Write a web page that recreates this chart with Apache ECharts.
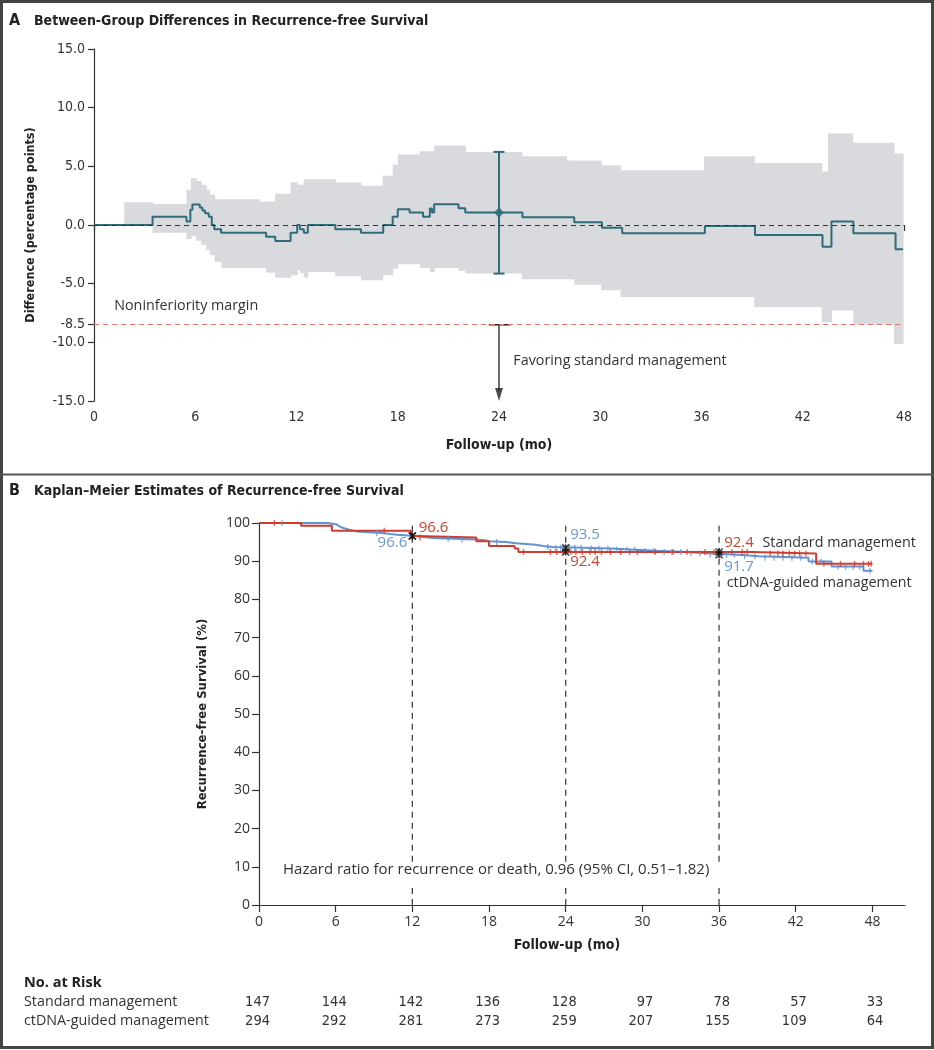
<!DOCTYPE html>
<html><head><meta charset="utf-8">
<script src="https://cdn.jsdelivr.net/npm/echarts@6/dist/echarts.min.js"></script>
<style>html,body{margin:0;padding:0;background:#fff}#c{width:934px;height:1050px}</style>
</head><body><div id="c"></div>
<script>
// ---------- Panel A data ----------
const diffTime = [0, 3.47, 5.48, 5.71, 5.83, 6.27, 6.42, 6.58, 6.8, 6.98, 7.13, 7.53, 10.2, 10.74, 11.65, 12.04, 12.2, 12.43, 12.67, 14.3, 15.82, 17.14, 17.7, 18.0, 18.7, 19.5, 19.9, 20.03, 20.16, 21.6, 22.0, 25.39, 28.46, 30.1, 31.3, 36.2, 39.17, 43.17, 43.7, 45.0, 47.5, 47.94];
const diffVal  = [0, 0.71, 0.29, 1.29, 1.74, 1.49, 1.23, 1.0, 0.71, 0, -0.37, -0.66, -1.0, -1.37, -0.66, 0, -0.37, -0.66, 0, -0.37, -0.66, 0, 0.71, 1.34, 1.06, 0.71, 1.4, 1.06, 1.77, 1.43, 1.06, 0.66, 0.23, -0.23, -0.71, -0.09, -0.86, -1.86, 0.29, -0.71, -2.06, -2.06];
const ciTime  = [1.79, 3.47, 5.48, 5.75, 6.05, 6.35, 6.65, 6.85, 7.15, 7.55, 9.8, 10.2, 10.74, 11.65, 12.04, 12.2, 12.43, 12.67, 14.3, 15.82, 17.1, 17.7, 18.0, 19.3, 19.9, 20.16, 21.6, 22.0, 25.35, 28.0, 28.46, 30.05, 31.2, 36.15, 39.12, 43.12, 43.5, 43.7, 44.95, 45.0, 47.4, 47.94];
const ciUpper = [1.94, 1.8, 3.0, 4.0, 3.75, 3.4, 3.0, 2.6, 2.2, 2.2, 2.0, 2.0, 2.66, 3.63, 3.43, 3.43, 3.9, 3.9, 3.63, 3.34, 4.2, 5.14, 6.0, 6.29, 6.29, 6.77, 6.77, 6.23, 5.86, 5.49, 5.49, 5.09, 4.66, 5.86, 5.29, 4.57, 7.8, 7.8, 7.0, 7.0, 6.09, 6.09];
const ciLower = [0, -0.66, -1.2, -0.94, -1.34, -1.71, -2.14, -2.57, -3.14, -3.66, -3.66, -4.06, -4.49, -4.29, -3.86, -4.1, -4.49, -4.0, -4.37, -4.71, -4.29, -3.71, -3.34, -3.66, -4.0, -3.66, -3.9, -4.14, -4.63, -4.63, -5.09, -5.57, -6.14, -6.14, -7.0, -8.29, -8.29, -7.29, -7.29, -8.49, -10.14, -10.14];
const est24 = {t: 24, est: 1.06, lo: -4.14, hi: 6.23};
const margin = -8.5;
const yTicksA = [15, 10, 5, 0, -5, -8.5, -10, -15];
const xTicksA = [0, 6, 12, 18, 24, 30, 36, 42, 48];

// ---------- Panel B data ----------
const ctdnaTime = [0, 5.4, 6.1, 6.3, 6.6, 7.0, 7.6, 9.6, 10.3, 10.8, 12.2, 13.6, 15.2, 17.0, 17.65, 18.0, 19.35, 20.1, 21.7, 22.2, 23.0, 25.5, 27.5, 29.5, 31.5, 33.5, 35.0, 37.5, 39.1, 43.0, 44.8, 47.3, 48.0];
const ctdnaVal  = [100, 99.6, 99.1, 98.7, 98.3, 97.8, 97.4, 97.1, 96.9, 96.6, 96.1, 95.9, 95.7, 95.5, 95.2, 95.0, 94.7, 94.3, 94.0, 93.7, 93.5, 93.3, 93.0, 92.7, 92.4, 92.1, 91.7, 91.3, 90.9, 89.9, 88.6, 87.5, 87.5];
const stdTime = [0, 3.3, 5.7, 11.9, 12.3, 17.0, 18.0, 20.0, 20.3, 38.5, 43.6, 48.0];
const stdVal  = [100, 99.3, 98.0, 96.6, 96.2, 95.2, 94.0, 93.3, 92.4, 92.0, 89.3, 89.3];
const ctdnaCensor = [1.8, 9.2, 14.8, 15.9, 18.6, 22.6, 23.2, 23.6, 24.3, 24.7, 25.2, 26.0, 26.6, 27.3, 28.0, 28.8, 29.4, 30.2, 30.9, 31.7, 32.3, 33.0, 33.8, 34.5, 35.3, 36.6, 37.2, 38.0, 38.8, 39.6, 40.3, 41.0, 41.7, 42.4, 43.3, 44.0, 45.3, 45.9, 46.5, 47.0, 47.8];
const stdCensor = [1.2, 9.8, 12.6, 20.7, 22.8, 23.3, 23.8, 24.4, 24.8, 25.3, 25.9, 26.3, 26.8, 27.5, 28.3, 29.0, 29.6, 31.0, 32.4, 33.5, 34.9, 35.6, 37.0, 37.8, 38.2, 40.0, 40.6, 41.0, 41.5, 41.9, 42.3, 42.8, 44.2, 45.5, 46.6, 47.3, 47.7, 47.9];
const landmarks = [12, 24, 36];
const landmarkGap = [5.2, 11.3];   // vertical span left free around the hazard-ratio note
const xTicksB = [0, 6, 12, 18, 24, 30, 36, 42, 48];
const riskTimes = [0, 6, 12, 18, 24, 30, 36, 42, 48];
const riskStd   = [147, 144, 142, 136, 128, 97, 78, 57, 33];
const riskCt    = [294, 292, 281, 273, 259, 207, 155, 109, 64];
const hazardText = 'Hazard ratio for recurrence or death, 0.96 (95% CI, 0.51\u20131.82)';

// ---------- styling ----------
const COND = "'DejaVu Sans Condensed',sans-serif";
const HUM = "'Open Sans','Lato',sans-serif";
const TEAL = '#2e6b7b', RED = '#cf3b2d', BLUE = '#6193d4';
const RED_T = '#c9452f', BLUE_T = '#6b97d0';

function zip(a, b) { return a.map((v, i) => [v, b[i]]); }
function kmAt(times, vals, t) { let v = vals[0]; for (let i = 0; i < times.length; i++) { if (times[i] <= t) v = vals[i]; } return v; }

const chart = echarts.init(document.getElementById('c'), null, {renderer: 'canvas'});
const axisCol = '#333';
const tickStyle = {lineStyle: {color: axisCol, width: 1.2}};

const ciRects = ciTime.slice(0, -1).map((t, i) => [t, ciTime[i + 1], ciLower[i], ciUpper[i]]);

const option = {
  animation: false,
  backgroundColor: '#fff',
  grid: [
    {left: 94, top: 49, width: 810, height: 352},
    {left: 259, top: 523, width: 646, height: 382}
  ],
  xAxis: [
    {gridIndex: 0, type: 'value', min: 0, max: 48, interval: 6,
     axisLine: {lineStyle: {color: axisCol, width: 1.2}}, axisTick: Object.assign({length: 6, customValues: xTicksA}, tickStyle),
     axisLabel: {customValues: xTicksA, fontFamily: COND, fontSize: 14, color: '#333', margin: 9}, splitLine: {show: false},
     name: 'Follow-up (mo)', nameLocation: 'middle', nameGap: 37,
     nameTextStyle: {fontFamily: COND, fontWeight: 'bold', fontSize: 14, color: '#222'}},
    {gridIndex: 1, type: 'value', min: 0, max: 50.55,
     axisLine: {lineStyle: {color: axisCol, width: 1.2}}, axisTick: Object.assign({length: 7, customValues: xTicksB}, tickStyle),
     axisLabel: {customValues: xTicksB, fontFamily: HUM, fontSize: 14, color: '#333', margin: 10}, splitLine: {show: false},
     name: 'Follow-up (mo)', nameLocation: 'middle', nameGap: 33,
     nameTextStyle: {fontFamily: COND, fontWeight: 'bold', fontSize: 14, color: '#222', padding: [0, 0, 0, -30]}}
  ],
  yAxis: [
    {gridIndex: 0, type: 'value', min: -15, max: 15,
     axisLine: {show: true, lineStyle: {color: axisCol, width: 1.2}}, axisTick: Object.assign({show: true, length: 6, customValues: yTicksA}, tickStyle),
     axisLabel: {customValues: yTicksA, formatter: v => Number(v).toFixed(1), fontFamily: COND, fontSize: 14, color: '#333', margin: 9},
     splitLine: {show: false},
     name: 'Difference (percentage points)', nameLocation: 'middle', nameGap: 57, nameRotate: 90,
     nameTextStyle: {fontFamily: COND, fontWeight: 'bold', fontSize: 12.5, color: '#222'}},
    {gridIndex: 1, type: 'value', min: 0, max: 100, interval: 10,
     axisLine: {show: true, lineStyle: {color: axisCol, width: 1.2}}, axisTick: Object.assign({show: true, length: 7}, tickStyle),
     axisLabel: {fontFamily: HUM, fontSize: 14, color: '#333', margin: 9},
     splitLine: {show: false},
     name: 'Recurrence-free Survival (%)', nameLocation: 'middle', nameGap: 50, nameRotate: 90,
     nameTextStyle: {fontFamily: COND, fontWeight: 'bold', fontSize: 13, color: '#222'}}
  ],
  series: [
    // CI band
    {type: 'custom', xAxisIndex: 0, yAxisIndex: 0, data: ciRects, encode: {x: [0, 1], y: [2, 3]}, silent: true, z: 1,
     renderItem: function (params, api) {
       const p0 = api.coord([api.value(0), api.value(3)]);
       const p1 = api.coord([api.value(1), api.value(2)]);
       return {type: 'rect', shape: {x: p0[0], y: p0[1], width: p1[0] - p0[0] + 0.6, height: p1[1] - p0[1]},
               style: {fill: '#d9dadd'}};
     }},
    // reference lines
    {type: 'line', xAxisIndex: 0, yAxisIndex: 0, data: [], z: 2, silent: true,
     markLine: {symbol: 'none', silent: true, label: {show: false}, animation: false,
       data: [
         {yAxis: 0, lineStyle: {color: '#333', type: [5, 4], width: 1.1}},
         {yAxis: margin, lineStyle: {color: '#e0766c', type: [5, 4], width: 1.2}}
       ]}},
    // difference line
    {type: 'line', xAxisIndex: 0, yAxisIndex: 0, data: zip(diffTime, diffVal), step: 'end', symbol: 'none',
     lineStyle: {color: TEAL, width: 2}, z: 3},
    // error bar at 24 mo
    {type: 'line', xAxisIndex: 0, yAxisIndex: 0, data: [[est24.t, est24.hi], [est24.t, est24.lo]], symbol: 'rect', symbolSize: [11, 2],
     showSymbol: true, itemStyle: {color: TEAL}, lineStyle: {color: TEAL, width: 2}, z: 4},
    {type: 'scatter', xAxisIndex: 0, yAxisIndex: 0, data: [[est24.t, est24.est]], symbol: 'diamond', symbolSize: [10, 11],
     itemStyle: {color: TEAL}, z: 5},
    // favoring arrow
    {type: 'line', xAxisIndex: 0, yAxisIndex: 0, data: [[23.4, margin], [24.7, margin]], symbol: 'none',
     lineStyle: {color: '#222', width: 1.5}, z: 4},
    {type: 'line', xAxisIndex: 0, yAxisIndex: 0, data: [[24, margin], [24, -14.2]], symbol: 'none',
     lineStyle: {color: '#222', width: 1.3}, z: 4},
    {type: 'scatter', xAxisIndex: 0, yAxisIndex: 0, data: [[24, -14.45]], symbol: 'triangle', symbolRotate: 180, symbolSize: [8, 13],
     itemStyle: {color: '#222'}, z: 4}
  ].concat(
    // Panel B: landmark dashed lines (broken around the hazard-ratio note)
    landmarks.map(t => ({type: 'line', xAxisIndex: 1, yAxisIndex: 1,
      data: [[t, 0], [t, landmarkGap[0]], [t, null], [t, landmarkGap[1]], [t, 100.6]], connectNulls: false,
      symbol: 'none', clip: false, silent: true, z: 2, lineStyle: {color: '#444', type: [6, 5], width: 1.3}}))
  ).concat([
    {type: 'line', xAxisIndex: 1, yAxisIndex: 1, data: zip(ctdnaTime, ctdnaVal), step: 'end', symbol: 'none',
     lineStyle: {color: BLUE, width: 2}, z: 3},
    {type: 'line', xAxisIndex: 1, yAxisIndex: 1, data: zip(stdTime, stdVal), step: 'end', symbol: 'none',
     lineStyle: {color: RED, width: 2}, z: 3},
    {type: 'scatter', xAxisIndex: 1, yAxisIndex: 1, data: ctdnaCensor.map(t => [t, kmAt(ctdnaTime, ctdnaVal, t)]),
     symbol: 'rect', symbolSize: [1.3, 6], itemStyle: {color: BLUE}, z: 4},
    {type: 'scatter', xAxisIndex: 1, yAxisIndex: 1, data: stdCensor.map(t => [t, kmAt(stdTime, stdVal, t)]),
     symbol: 'rect', symbolSize: [1.3, 6], itemStyle: {color: RED}, z: 4},
    {type: 'scatter', xAxisIndex: 1, yAxisIndex: 1,
     data: landmarks.flatMap(t => [[t, kmAt(ctdnaTime, ctdnaVal, t)], [t, kmAt(stdTime, stdVal, t)]]),
     symbol: 'path://M0,0L10,10M10,0L0,10M5,0L5,10', symbolSize: 7,
     itemStyle: {color: 'none', borderColor: '#111', borderWidth: 1.6}, z: 6}
  ])
};
chart.setOption(option);

// ---------- text annotations placed through the axes ----------
function pA(x, y) { return chart.convertToPixel({xAxisIndex: 0, yAxisIndex: 0}, [x, y]); }
function pB(x, y) { return chart.convertToPixel({xAxisIndex: 1, yAxisIndex: 1}, [x, y]); }
function txt(p, text, opts) {
  return {type: 'text', x: p[0], y: p[1], silent: true, z: 10,
    style: Object.assign({text: text, fill: '#333', font: '14.3px ' + HUM, align: 'left', verticalAlign: 'middle'}, opts || {})};
}
const g = [];
// frame
g.push({type: 'rect', shape: {x: 1.5, y: 1.5, width: 931, height: 1046}, style: {fill: 'none', stroke: '#444', lineWidth: 3}, z: 20});
g.push({type: 'line', shape: {x1: 0, y1: 474.5, x2: 934, y2: 474.5}, style: {stroke: '#555', lineWidth: 2}, z: 20});
// titles
g.push({type: 'text', x: 9, y: 21, style: {text: 'A', font: 'bold 16px ' + COND, fill: '#222', verticalAlign: 'middle'}});
g.push({type: 'text', x: 34, y: 21, style: {text: 'Between-Group Differences in Recurrence-free Survival', font: 'bold 14px ' + COND, fill: '#222', verticalAlign: 'middle'}});
g.push({type: 'text', x: 9, y: 491, style: {text: 'B', font: 'bold 16px ' + COND, fill: '#222', verticalAlign: 'middle'}});
g.push({type: 'text', x: 34, y: 491, style: {text: 'Kaplan\u2013Meier Estimates of Recurrence-free Survival', font: 'bold 14px ' + COND, fill: '#222', verticalAlign: 'middle'}});
// panel A notes
g.push(txt(pA(1.2, -6.9), 'Noninferiority margin'));
g.push(txt(pA(24.85, -11.57), 'Favoring standard management'));
// panel B notes
g.push(txt(pB(1.88, 9.16), hazardText, {font: '15px ' + HUM}));
g.push(txt(pB(12.5, 98.8), '96.6', {fill: RED_T, font: '15px ' + HUM}));
g.push(txt(pB(11.6, 94.8), '96.6', {fill: BLUE_T, align: 'right', font: '15px ' + HUM}));
g.push(txt(pB(24.35, 96.9), '93.5', {fill: BLUE_T, font: '15px ' + HUM}));
g.push(txt(pB(24.35, 89.9), '92.4', {fill: RED_T, font: '15px ' + HUM}));
g.push(txt(pB(36.4, 94.9), '92.4', {fill: RED_T, font: '15px ' + HUM}));
g.push(txt(pB(39.4, 94.9), 'Standard management'));
g.push(txt(pB(36.4, 88.5), '91.7', {fill: BLUE_T, font: '15px ' + HUM}));
g.push(txt(pB(36.6, 84.2), 'ctDNA-guided management'));
// risk table
g.push({type: 'text', x: 24, y: 983, style: {text: 'No. at Risk', font: 'bold 14.5px ' + HUM, fill: '#222', verticalAlign: 'middle'}});
g.push({type: 'text', x: 24, y: 1002, style: {text: 'Standard management', font: '14.3px ' + HUM, fill: '#333', verticalAlign: 'middle'}});
g.push({type: 'text', x: 24, y: 1021, style: {text: 'ctDNA-guided management', font: '14.3px ' + HUM, fill: '#333', verticalAlign: 'middle'}});
riskTimes.forEach((t, i) => {
  const x = chart.convertToPixel({xAxisIndex: 1}, t) + 11;
  g.push({type: 'text', x: x, y: 1002, style: {text: String(riskStd[i]), font: '14.5px ' + COND, fill: '#333', align: 'right', verticalAlign: 'middle'}});
  g.push({type: 'text', x: x, y: 1021, style: {text: String(riskCt[i]), font: '14.5px ' + COND, fill: '#333', align: 'right', verticalAlign: 'middle'}});
});
chart.setOption({graphic: {elements: g}});
</script>
</body></html>
